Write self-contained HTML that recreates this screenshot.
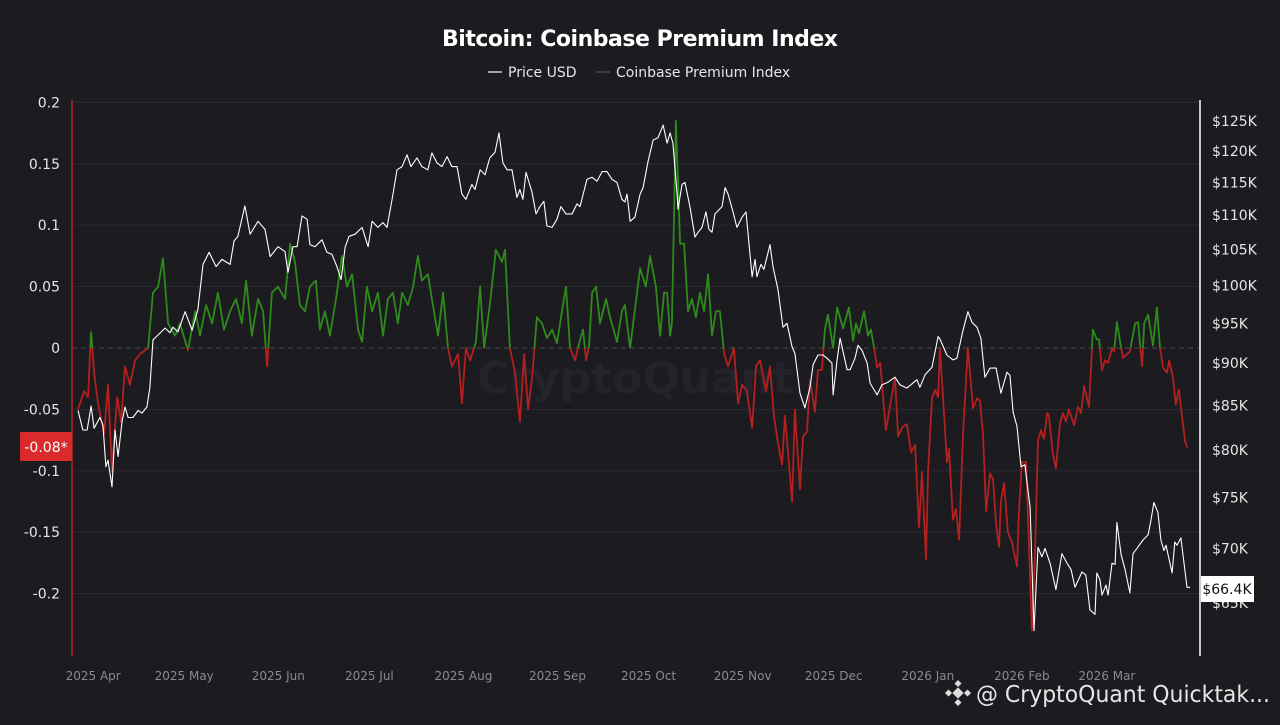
<!DOCTYPE html>
<html><head><meta charset="utf-8"><style>
html,body{margin:0;padding:0;background:#1b1b20;}
body{width:1280px;height:720px;overflow:hidden;font-family:"Liberation Sans","DejaVu Sans",sans-serif;}
svg text{font-family:"DejaVu Sans","Liberation Sans",sans-serif;}
</style></head><body>
<svg id="chart" width="1280" height="720" xmlns="http://www.w3.org/2000/svg">
<rect width="1280" height="720" fill="#1b1b20"/>
<text x="640" y="46" text-anchor="middle" fill="#ffffff" font-size="22" font-weight="bold" textLength="396">Bitcoin: Coinbase Premium Index</text>
<g>
<g><line x1="488" y1="72" x2="502" y2="72" stroke="#fff" stroke-width="1.2"/><text x="508" y="77" fill="#e6e6e6" font-size="14">Price USD</text></g>
<g><line x1="596" y1="72" x2="610" y2="72" stroke="#555" stroke-width="1.2"/><text x="616" y="77" fill="#e6e6e6" font-size="14">Coinbase Premium Index</text></g>
</g>
<text x="635" y="393" text-anchor="middle" fill="#232329" font-size="44" font-weight="bold">CryptoQuant</text>
<g id="grid"></g>
<g id="yLeft"></g>
<g id="yRight"></g>
<g id="xAxis"></g>
<defs>
<clipPath id="clipUp"><rect id="cu" x="0" y="0" width="1280" height="348"/></clipPath>
<clipPath id="clipDn"><rect id="cd" x="0" y="348" width="1280" height="400"/></clipPath>
</defs>
<g id="series"></g>
<line x1="72" y1="100" x2="72" y2="656" stroke="#b22222" stroke-width="1.5"/>
<line x1="1200" y1="100" x2="1200" y2="656" stroke="#ffffff" stroke-width="1.5"/>
<g><rect x="20" y="432" width="52" height="29" fill="#d92b2b"/><text x="46" y="452" text-anchor="middle" fill="#fff" font-size="14">-0.08*</text></g>
<g><rect x="1201" y="576" width="53" height="26" fill="#ffffff"/><text x="1227" y="594" text-anchor="middle" fill="#111" font-size="14">$66.4K</text></g>
<g>
<g transform="translate(958,693)" fill="#dddddd"><rect x="-4" y="-4" width="8" height="8" transform="rotate(45)"/><rect x="-12" y="-2.5" width="5" height="5" transform="rotate(45 -9.5 0)"/><rect x="7" y="-2.5" width="5" height="5" transform="rotate(45 9.5 0)"/><rect x="-2.5" y="-12" width="5" height="5" transform="rotate(45 0 -9.5)"/><rect x="-2.5" y="7" width="5" height="5" transform="rotate(45 0 9.5)"/></g>
<text x="976" y="702" fill="#e6e6e6" font-size="23" textLength="294" lengthAdjust="spacingAndGlyphs">@ CryptoQuant Quicktak...</text>
</g>
</svg>
<script>
const leftTicks=[0.2,0.15,0.1,0.05,0,-0.05,-0.1,-0.15,-0.2];
const leftTickLabels=["0.2","0.15","0.1","0.05","0","-0.05","-0.1","-0.15","-0.2"];
const rightTicks=[125,120,115,110,105,100,95,90,85,80,75,70,65];
const monthDays=[5,35,66,96,127,158,188,219,249,280,311,339];
const monthLabels=["2025 Apr","2025 May","2025 Jun","2025 Jul","2025 Aug","2025 Sep","2025 Oct","2025 Nov","2025 Dec","2026 Jan","2026 Feb","2026 Mar"];
const priceDays=[0,1.6,3,4.3,5.3,7.2,8.2,9.2,9.9,11.2,12.2,13.2,14.5,15.5,16.5,18.1,19.8,21.1,22.7,23.7,24.7,26.4,28.7,30.3,31.3,32.9,35.3,37.6,39.5,41.2,43.2,45.5,47.4,50.1,51.4,52.7,55,56.7,59.3,61.6,63.3,65.9,68.2,69.2,70.8,72.2,73.8,75.5,76.4,78.1,80.4,82,83.7,85.3,86.7,88,89.3,91.3,93.6,95.6,96.9,98.8,100.5,101.8,103.5,105.1,106.8,108.4,109.7,111.7,113.3,115.3,116.6,118.3,119.9,121.6,123.2,124.9,126.5,127.8,129.8,130.8,132.5,134.1,135.7,137.4,138.7,140,141.4,143,144.6,145.6,146.6,147.6,149.6,150.9,152.2,153.5,154.5,156.2,157.8,159.1,160.8,162.8,164.4,165.4,167.7,169.4,171,172.7,174.3,175.9,177.6,179.2,180.2,180.9,181.9,183.5,185.2,186.2,187.8,189.5,191.1,192.8,194.1,195.1,196,197.4,197.7,199,200,201.6,203.3,204.3,205.6,206.9,207.9,208.9,209.9,212.2,213.2,214.2,215.8,217.1,218.8,220.1,222.1,223.1,223.7,225,226,228,229,230.6,232.3,233.6,235.3,236.2,237.9,239.5,241.2,242.2,243.8,245.5,246.8,248.4,248.8,250.1,251.1,253.4,254.4,256,257,258.3,260,261,263.3,264.9,266.9,269.2,270.8,273.1,275.1,276.4,277.4,279.1,281.4,283.4,284,286.3,288.3,289.6,291.6,293.2,294.6,296.2,297.5,298.8,300.5,302.5,304.1,306.1,307.1,308.1,309.4,310.7,312,313.7,315,316.3,317.6,318.6,320.3,322.2,324.2,325.9,327.2,328.5,330.8,332.1,333.4,335.1,335.7,336.7,337.4,338.7,339.4,340.7,341.7,342.3,343.7,345,346.6,347.6,348.9,350.9,352.6,353.5,354.5,355.8,356.8,357.8,358.5,360.5,361.4,362.1,363.4,365.4,366.4];
const priceK=[84.4,82.2,82.2,84.9,82.4,83.6,82.8,78.2,78.9,76.1,82.2,79.3,83.1,84.8,83.6,83.6,84.4,84.1,84.8,87.1,92.9,93.5,94.4,93.8,94.5,93.9,96.5,94.1,96.8,102.9,104.6,102.6,103.6,102.9,106.2,106.9,111.4,107.2,109.1,107.9,104,105.4,104.7,101.8,105.4,105.4,109.9,109.4,105.7,105.4,106.4,104.6,104.3,102.6,100.8,105.3,106.9,107.2,108.2,105.4,109.1,108.2,108.9,108.2,112.4,117,117.5,119.4,117.5,118.9,117.5,117,119.7,118.1,117.5,119.1,117.5,117.5,113.2,112.4,114.7,113.9,117,116.2,118.9,119.8,123,118.1,117,117,112.7,113.9,112.4,116.6,113.5,110.2,111.3,112.1,108.4,108.2,109.4,111.3,110.2,110.2,111.7,111.3,115.5,115.8,115.2,116.7,116.7,115.5,115,112.4,112,113.2,109.1,109.7,113.2,114.2,118.3,121.8,122.2,124.3,121.3,123,121.3,113.2,110.9,114.7,115,111.3,106.8,107.5,108.2,110.5,107.9,107.5,110.2,111.3,114.2,113.2,110.5,108.2,109.7,110.5,101.2,103.6,101.2,102.9,102.2,105.7,102.6,99.5,94.5,95,92,91.2,86.4,84.7,87.1,89.8,91,91,90.6,90,86.2,90.4,93.1,89.2,89.2,90.6,92.2,91.6,90,87.6,86.2,87.4,87.7,88.3,87.4,87,87.6,88,87.1,88.6,89.5,93.3,93,91,90.4,90.6,94.1,96.5,95.1,94.5,93.1,88.3,89.4,89.4,86.4,88.9,88.5,84.2,82.6,78.2,78.4,74,62.6,70.1,69.2,70,68.6,66.2,69.5,68.6,68,66.4,67.8,67.5,64.4,64,67.7,67.1,65.7,66.6,65.7,68.6,68.5,72.5,69.4,68,65.9,69.5,70,70.8,71.3,72.7,74.5,73.5,70.8,69.8,70.3,67.7,70.6,70.3,71,66.4,66.4];
const premDays=[0,2,3.3,4.3,5.3,6.6,8.6,9.9,11.2,12.9,14.2,15.5,17.1,18.8,20.4,23.1,24.7,26.4,28,29.7,32,33.6,36.2,38.6,40.2,42.2,44.2,46.1,48.1,50.1,52.1,54,55.4,57.3,59.3,61,62.3,63.9,65.9,68.2,69.9,71.5,73.1,74.8,76.4,78.4,79.7,81.4,83,85,87,88.6,90.3,92.3,93.6,95.2,96.9,98.8,100.5,102.1,103.8,105.4,106.8,108.7,110.4,112,113.3,115.3,116.6,118.6,120.3,121.9,123.2,125.2,126.5,127.8,129.2,131.1,132.5,133.8,135.7,137.7,139.7,140.7,142.3,144,145.6,147,148.3,149.6,151.2,152.9,154.5,156.2,157.8,160.8,162.1,163.8,164.7,166.4,167.4,168.4,169.4,170.7,172,174,175.3,177.6,179.2,180.2,181.9,185.2,187.1,188.5,190.4,191.8,193.1,194.1,195.1,195.7,197,198.4,199.7,201,202.3,203.6,204.9,206.3,207.6,208.9,210.2,211.5,212.9,214.2,216.1,217.5,218.8,220.4,222.1,223.4,224.7,226.7,228,229.3,230.6,232,232.9,235.3,236.2,237.9,238.9,240.2,241.2,242.8,243.8,245.1,246.1,247.1,248.8,250.1,252.1,254,255.4,256.3,257.3,259,260.3,261.3,262.3,263.3,264.3,266.2,267.5,269.2,270.2,271.8,273.1,274.5,275.8,277.1,278.1,279.4,280.1,281.4,282.4,283.4,284,285,286.3,287,288.3,289.3,290.3,291.6,293.2,294.9,296.2,297.2,298.2,299.2,300.5,301.5,302.5,303.5,304.1,305.1,306.4,307.7,309.4,310,311,312.4,314.3,315.3,316.3,317.3,318.3,319.3,319.9,321.2,322.2,323.6,324.5,325.5,326.5,328.2,329.5,330.5,331.5,333.1,334.4,335.7,336.4,337.4,338.4,339.4,340.7,341.4,342.3,343.7,344.3,346.6,348.3,349.3,350.6,351.3,352.6,354.2,355.5,356.5,357.5,358.8,359.5,360.8,361.7,362.7,364.7,365.4];
const premVals=[-0.05,-0.035,-0.04,0.013,-0.02,-0.045,-0.07,-0.03,-0.1,-0.04,-0.06,-0.015,-0.03,-0.01,-0.005,0,0.045,0.05,0.073,0.02,0.01,0.02,-0.002,0.03,0.01,0.035,0.02,0.045,0.015,0.03,0.04,0.02,0.055,0.01,0.04,0.03,-0.015,0.045,0.05,0.04,0.085,0.07,0.035,0.03,0.05,0.055,0.015,0.03,0.01,0.04,0.075,0.05,0.06,0.015,0.005,0.05,0.03,0.045,0.01,0.04,0.045,0.02,0.045,0.035,0.05,0.075,0.055,0.06,0.04,0.01,0.045,0,-0.015,-0.005,-0.045,0,-0.01,0.005,0.05,0,0.035,0.08,0.07,0.08,0,-0.02,-0.06,-0.005,-0.05,-0.025,0.025,0.02,0.008,0.015,0.004,0.05,0,-0.01,0,0.015,-0.01,0.002,0.045,0.05,0.02,0.04,0.025,0.005,0.03,0.035,0,0.065,0.05,0.075,0.05,0.01,0.045,0.045,0.01,0.02,0.185,0.085,0.085,0.03,0.04,0.025,0.045,0.03,0.06,0.01,0.03,0.03,-0.005,-0.015,0,-0.045,-0.03,-0.035,-0.065,-0.015,-0.01,-0.035,-0.015,-0.055,-0.077,-0.095,-0.055,-0.125,-0.05,-0.115,-0.072,-0.068,-0.026,-0.052,-0.018,-0.018,0.015,0.027,0,0.033,0.016,0.033,0.006,0.02,0.012,0.03,0.01,0.015,0,-0.016,-0.012,-0.067,-0.048,-0.024,-0.072,-0.064,-0.062,-0.085,-0.079,-0.146,-0.101,-0.172,-0.1,-0.041,-0.034,-0.04,0,-0.04,-0.093,-0.082,-0.14,-0.131,-0.156,-0.07,0,-0.049,-0.041,-0.043,-0.07,-0.133,-0.102,-0.107,-0.144,-0.162,-0.125,-0.11,-0.15,-0.158,-0.178,-0.134,-0.093,-0.093,-0.23,-0.17,-0.075,-0.067,-0.074,-0.053,-0.055,-0.086,-0.098,-0.061,-0.053,-0.06,-0.05,-0.063,-0.048,-0.053,-0.031,-0.048,0.015,0.007,0.007,-0.018,-0.01,-0.012,0,-0.003,0.021,0,-0.008,-0.003,0.02,0.021,-0.015,0.02,0.027,0.002,0.033,0,-0.016,-0.02,-0.01,-0.024,-0.046,-0.034,-0.075,-0.081];

const NS="http://www.w3.org/2000/svg";
const X0=78,XPD=3.035;
function xS(d){return X0+d*XPD;}
function yL(v){return 348-v*1228;}
const LT=Math.log(125),LB=Math.log(65);
function yR(k){return 121+(LT-Math.log(k))/(LT-LB)*482;}
function mk(tag,attrs,parent){const e=document.createElementNS(NS,tag);for(const k in attrs)e.setAttribute(k,attrs[k]);parent.appendChild(e);return e;}
const grid=document.getElementById('grid'),yl=document.getElementById('yLeft'),yr=document.getElementById('yRight'),xa=document.getElementById('xAxis'),ser=document.getElementById('series');
leftTicks.forEach((v,i)=>{
  const y=yL(v);
  const g=mk('line',{x1:72,x2:1200,y1:y,y2:y,stroke:v===0?'#4a4a52':'#2a2a31','stroke-width':1,'stroke-dasharray':v===0?'5,4':'none'},grid);
  
  
  const t=mk('text',{x:60,y:y+5,'text-anchor':'end',fill:'#e6e6e6','font-size':14},yl);
  t.textContent=leftTickLabels[i];
  
  
});
rightTicks.forEach(k=>{
  const t=mk('text',{x:1212,y:yR(k)+5,fill:'#e6e6e6','font-size':14},yr);
  t.textContent='$'+k+'K';
  
  
});
monthDays.forEach((d,i)=>{
  const t=mk('text',{x:xS(d),y:680,'text-anchor':'middle',fill:'#8a8a92','font-size':12},xa);
  t.textContent=monthLabels[i];
  
  
});
document.getElementById('cu').setAttribute('height',yL(0));
document.getElementById('cd').setAttribute('y',yL(0));
const pd=premDays.map((d,i)=>(i?'L':'M')+xS(d).toFixed(1)+','+yL(premVals[i]).toFixed(1)).join('');
const up=mk('path',{d:pd,fill:'none',stroke:'#2f8a1c','stroke-width':1.8,'clip-path':'url(#clipUp)','stroke-linejoin':'round'},ser);


const dn=mk('path',{d:pd,fill:'none',stroke:'#b3201f','stroke-width':1.8,'clip-path':'url(#clipDn)','stroke-linejoin':'round'},ser);


const pp=priceDays.map((d,i)=>(i?'L':'M')+xS(d).toFixed(1)+','+yR(priceK[i]).toFixed(1)).join('');
const pl=mk('path',{d:pp,fill:'none',stroke:'#ffffff','stroke-width':1.1,'stroke-linejoin':'round'},ser);


</script>
</body></html>
